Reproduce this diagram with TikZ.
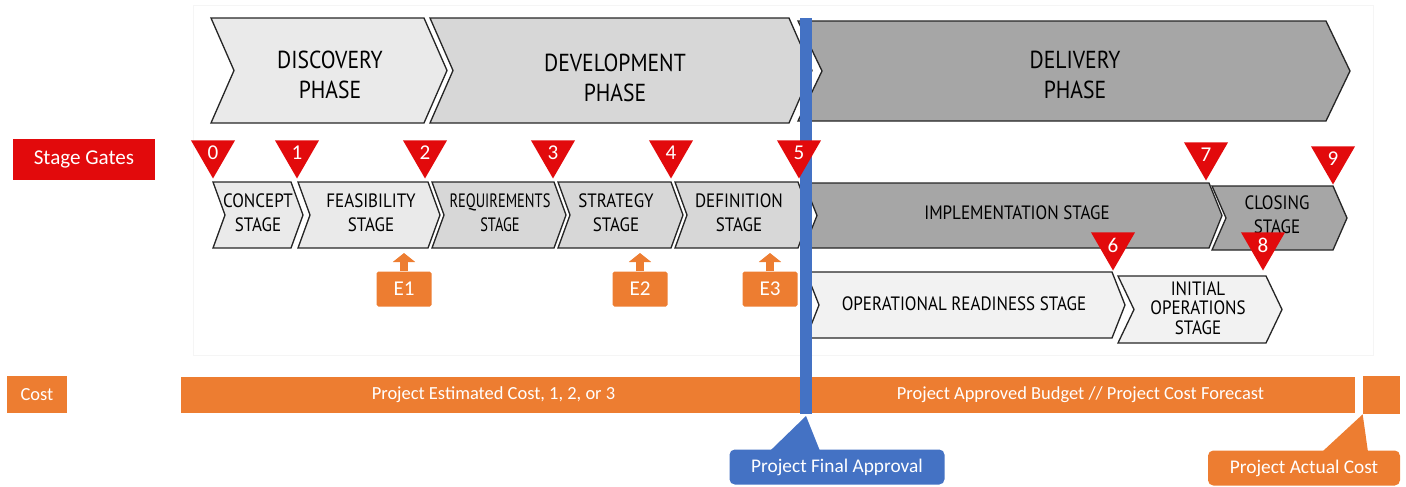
\documentclass[tikz,border=0pt]{standalone}
\usepackage{fontspec}
\setmainfont{Carlito}
\newfontfamily\sketchfont[FakeStretch=0.88]{PT Sans}
\usepackage{tikz}
\usetikzlibrary{shapes.geometric,arrows.meta}
\definecolor{gatered}{RGB}{226,10,12}
\definecolor{costorange}{RGB}{237,125,49}
\definecolor{approvalblue}{RGB}{68,114,196}
\definecolor{phaselight}{RGB}{234,234,234}
\definecolor{phasemid}{RGB}{215,215,215}
\definecolor{phasedark}{RGB}{166,166,166}
\definecolor{opslight}{RGB}{242,242,242}

% chevron: fill, left x, tip x, top y, bottom y, notch depth
\newcommand{\chev}[6]{%
  \filldraw[chevline,fill=#1] (#2,#4) -- ({#3-#6},#4) -- (#3,{(#4+#5)/2})
    -- ({#3-#6},#5) -- (#2,#5) -- ({#2+#6},{(#4+#5)/2}) -- cycle;}

\begin{document}
\begin{tikzpicture}[x=0.2mm,y=-0.2mm]
  \tikzset{
    chevline/.style={draw=black!85,line width=0.75pt},
    phasetext/.style={font=\sketchfont\fontsize{14}{17}\selectfont,align=center},
    stagetext/.style={font=\sketchfont\fontsize{11}{13.5}\selectfont,align=center},
    gate/.style={regular polygon,regular polygon sides=3,shape border rotate=180,
      fill=gatered,inner sep=0pt,minimum size=10.2mm,text=white,
      font=\fontsize{12}{12}\selectfont},
    tag/.style={fill=#1,text=white,inner sep=0pt,align=center},
    estbox/.style={tag=costorange,minimum width=11mm,minimum height=7mm,
      rounded corners=1pt,font=\fontsize{12}{12}\selectfont},
    estarrow/.style={draw=costorange,line width=1.6mm,
      -{Triangle[width=4.4mm,length=1.8mm]}},
    costbar/.style={tag=costorange,minimum height=7.2mm,
      font=\fontsize{10.5}{12}\selectfont},
    note/.style={tag=#1,rounded corners=3pt,minimum height=7mm,
      font=\fontsize{11}{13}\selectfont},
  }
  \useasboundingbox (0,0) rectangle (1406,487);
  \draw[black!4] (193,5) rectangle (1373,355);

  % phases
  \chev{phaselight}{211}{447}{18}{123}{23}
  \chev{phasemid}{430}{812}{18}{123}{23}
  \chev{phasedark}{798}{1350}{21}{121}{24}
  \node[phasetext] (discovery) at (330,75) {DISCOVERY\\PHASE};
  \node[phasetext] (development) at (615,78) {DEVELOPMENT\\PHASE};
  \node[phasetext] (delivery) at (1075,75) {DELIVERY\\PHASE};

  % stages
  \chev{phaselight}{213}{303}{182}{248}{12}
  \chev{phaselight}{298}{440}{182}{248}{12}
  \chev{phasemid}{432}{566}{182}{248}{12}
  \chev{phasemid}{558}{683}{182}{248}{12}
  \chev{phasemid}{675}{810}{182}{248}{12}
  \chev{phasedark}{804}{1222}{183}{248}{13}
  \chev{phasedark}{1212}{1347}{186}{250}{14}
  \chev{opslight}{806}{1125}{272}{338}{13}
  \chev{opslight}{1118}{1282}{276}{343}{16}
  \node[stagetext] (concept) at (258,213) {CONCEPT\\STAGE};
  \node[stagetext] (feasibility) at (371,213) {FEASIBILITY\\STAGE};
  \node[stagetext,xscale=0.85] (requirements) at (500,213) {REQUIREMENTS\\STAGE};
  \node[stagetext] (strategy) at (616,213) {STRATEGY\\STAGE};
  \node[stagetext] (definition) at (739,213) {DEFINITION\\STAGE};
  \node[stagetext] (implementation) at (1017,213) {IMPLEMENTATION STAGE};
  \node[stagetext] (closing) at (1277,215) {CLOSING\\STAGE};
  \node[stagetext] (readiness) at (964,304) {OPERATIONAL READINESS STAGE};
  \node[stagetext,font=\sketchfont\fontsize{11}{11}\selectfont] (initialops) at (1198,308) {INITIAL\\OPERATIONS\\STAGE};

  % labels on the left
  \node[tag=gatered,minimum width=28.4mm,minimum height=8.2mm,
    font=\fontsize{12}{14}\selectfont] (stagegates) at (84,159.5) {Stage Gates};
  \node[costbar,minimum width=12mm,minimum height=7.4mm] (cost) at (37,394.5) {Cost};

  % cost bar
  \node[costbar,minimum width=125mm] (estcost) at (493.5,395) {Project Estimated Cost, 1, 2, or 3};
  \node[costbar,minimum width=109.8mm] (budget) at (1080.5,395) {Project Approved Budget // Project Cost Forecast};
  \node[costbar,minimum width=7.4mm,minimum height=7.6mm] (actualcost) at (1381.5,395) {};

  % final approval line
  \fill[approvalblue] (800,18) rectangle (812,414);
  \coordinate (approvalfoot) at (806,416);

  % stage gates
  \node[gate] (gate0) at (213,153) {0};
  \node[gate] (gate1) at (297,153) {1};
  \node[gate] (gate2) at (425,153) {2};
  \node[gate] (gate3) at (553,153) {3};
  \node[gate] (gate4) at (671,153) {4};
  \node[gate] (gate5) at (799,153) {5};
  \node[gate] (gate6) at (1113,245) {6};
  \node[gate] (gate7) at (1206,155) {7};
  \node[gate] (gate8) at (1263,245) {8};
  \node[gate] (gate9) at (1333,159) {9};

  % estimates
  \node[estbox] (e1) at (404,289) {E1};
  \node[estbox] (e2) at (640,289) {E2};
  \node[estbox] (e3) at (770,289) {E3};
  \coordinate (e1tip) at (404,253);
  \coordinate (e2tip) at (640,253);
  \coordinate (e3tip) at (770,253);
  \draw[estarrow] (e1.north) -- (e1tip);
  \draw[estarrow] (e2.north) -- (e2tip);
  \draw[estarrow] (e3.north) -- (e3tip);

  % callouts with their pointers
  \node[note=approvalblue,minimum width=43mm] (finalapproval) at (837,467) {Project Final Approval};
  \fill[approvalblue] ([xshift=-13.4mm,yshift=-1pt]finalapproval.north) -- (approvalfoot)
    -- ([xshift=-3.4mm,yshift=-1pt]finalapproval.north) -- cycle;
  \node[note=costorange,minimum width=38.4mm] (actual) at (1304,468) {Project Actual Cost};
  \fill[costorange] ([xshift=3.6mm,yshift=-1pt]actual.north) -- (actualcost.south west)
    -- ([xshift=12.8mm,yshift=-1pt]actual.north) -- cycle;
\end{tikzpicture}
\end{document}
